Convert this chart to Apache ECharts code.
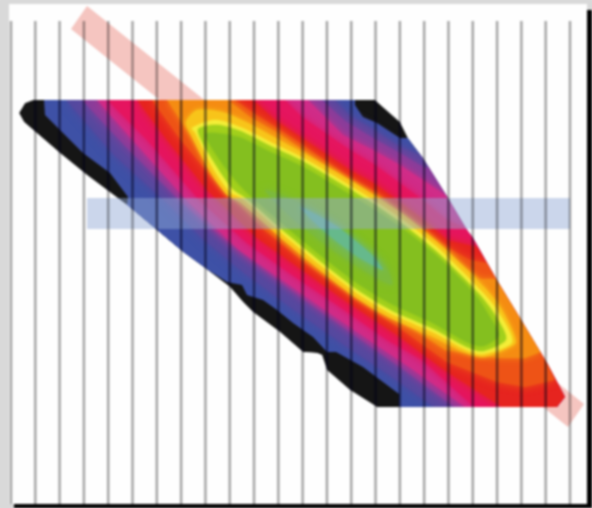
<!DOCTYPE html>
<html><head><meta charset="utf-8">
<script src="https://cdn.jsdelivr.net/npm/echarts@6/dist/echarts.min.js"></script>
<style>html,body{margin:0;padding:0;background:#d9d9d9;overflow:hidden}#main{width:592px;height:508px;filter:blur(0.9px)}</style>
</head><body><div id="main"></div>
<script>
// vertical rule positions (index along the horizontal scale)
const ruleTicks = [0,1,2,3,4,5,6,7,8,9,10,11,12,13,14,15,16,17,18,19,20,21,22,23];
// contour lines of the field, [x, y] on the picture's scale, from the lowest level to the highest
const contourBlack = [[33,100],[375,100],[400,122],[408,138],[423,158],[448,198],[467,230],[473,238],[498,282],[523,323],[547,363],[563,393],[565,397],[557,407],[377,407],[350,390],[327,370],[322,355],[317,353],[303,352],[280,332],[253,312],[243,302],[230,287],[205,268],[183,252],[127,205],[87,175],[60,153],[24,122],[19,113],[25,103]];
const contourBlue = [[44,100],[355,100],[355,105],[363,117],[377,123],[400,138],[408,138],[423,158],[448,198],[467,230],[473,238],[498,282],[523,323],[547,363],[563,393],[565,397],[557,407],[399,407],[399,394],[363,367],[336,352],[327,352],[313,337],[293,323],[277,310],[263,300],[247,295],[242,285],[227,282],[205,268],[183,252],[127,205],[128,197],[110,173],[83,153],[45,115]];
const contourIndigo = [[66,100],[114,155],[169,205],[204,240],[244,273],[294,310],[344,345],[389,375],[434,407],[557,407],[565,397],[563,393],[547,363],[523,323],[498,282],[473,238],[467,230],[448,198],[423,158],[421,155],[400,147],[373,129],[350,116],[335,100]];
const contourPurple = [[82,100],[124,145],[179,200],[219,235],[264,270],[309,303],[364,342],[404,370],[454,407],[557,407],[565,397],[563,393],[547,363],[523,323],[498,282],[473,238],[467,230],[448,198],[429,167],[425,168],[400,153],[373,138],[345,121],[322,100]];
const contourPink = [[97,100],[137,145],[189,203],[239,250],[282,280],[329,313],[379,347],[409,367],[465,407],[557,407],[565,397],[563,393],[547,363],[523,323],[498,282],[473,238],[467,230],[448,198],[444,194],[423,180],[400,165],[373,150],[343,135],[308,100]];
const contourCrimson = [[107,100],[147,140],[199,200],[247,243],[292,275],[337,305],[387,340],[422,360],[474,407],[557,407],[565,397],[563,393],[547,363],[523,323],[498,282],[473,238],[467,230],[463,227],[447,220],[423,200],[375,165],[350,150],[302,117],[285,100]];
const contourRed = [[137,100],[167,140],[207,190],[257,238],[302,270],[347,302],[397,335],[447,372],[502,407],[557,407],[565,397],[563,393],[547,363],[523,323],[498,282],[477,247],[447,240],[423,219],[375,184],[350,170],[302,138],[275,120],[253,100]];
const contourScarlet = [[152,100],[177,135],[212,178],[264,230],[304,262],[352,297],[402,330],[447,362],[497,382],[525,387],[555,380],[547,363],[523,323],[498,282],[487,263],[470,260],[447,247],[423,228],[375,192],[350,178],[303,145],[280,130],[255,114],[235,100]];
const contourOrange = [[167,100],[187,130],[217,170],[267,222],[304,258],[355,293],[400,320],[445,350],[497,358],[525,358],[541,352],[523,323],[498,282],[495,279],[480,279],[447,252],[423,232],[375,196],[350,182],[303,150],[280,134],[250,117],[228,100]];
const contourAmber = [[186,122],[197,110],[222,112],[246,122],[272,136],[303,153],[338,173],[374,195],[409,219],[443,247],[484,287],[501,308],[516,342],[504,350],[483,357],[466,353],[431,336],[388,317],[355,297],[321,271],[288,244],[240,202],[227,195],[209,170],[191,135]];
const contourYellow = [[192,128],[215,120],[242,128],[270,142],[303,158],[337,178],[373,200],[407,223],[440,250],[480,290],[497,310],[512,342],[483,354],[467,350],[433,332],[390,313],[357,293],[323,267],[290,240],[242,198],[230,192],[213,168],[195,132]];
const contourLime = [[198,130],[217,125],[240,131],[268,145],[302,161],[336,181],[372,203],[405,226],[438,253],[478,293],[493,312],[506,339],[483,351],[467,347],[434,329],[391,310],[358,290],[324,264],[291,237],[246,198],[233,189],[216,165]];
const contourGreen = [[206,134],[238,137],[268,151],[303,167],[337,187],[373,209],[407,232],[440,259],[476,296],[489,316],[499,335],[483,346],[467,342],[433,323],[390,303],[357,283],[323,257],[290,230],[253,198],[238,183],[220,160]];
const contourDeepGreen = [[265,190],[300,203],[340,230],[385,265],[392,285],[350,262],[300,225]];
const contourTeal = [[300,207],[335,225],[372,255],[383,270],[355,255],[325,232]];
const levelContours = [contourBlack,contourBlue,contourIndigo,contourPurple,contourPink,contourCrimson,contourRed,contourScarlet,contourOrange,contourAmber,contourYellow,contourLime,contourGreen,contourDeepGreen,contourTeal];
const levelColors = ['#151515','#3e51a6','#54499f','#8a3d9a','#d02c88','#e5155f','#e6241f','#ee5316','#f58c12','#f8c41a','#f4ee38','#a2d01c','#84bf1f','#7cba3c','#66b98c'];
const levelFeather = [0,0,10,12,8,8,10,8,7,5,2,2,3,8,8];
// the two pale strips that cross the field
const stripPink = [[87,6],[584,404],[568,427],[71,29]];
const stripBlue = [[87,198],[570,198],[570,229],[87,229]];

function poly(pts, api, fill, z){
  return {type:'polygon', z2:z, shape:{points:pts.map(p=>api.coord(p))}, style:{fill:fill}};
}
function rule(a, b, stroke, width, z){
  return {type:'line', z2:z, shape:{x1:a[0],y1:a[1],x2:b[0],y2:b[1]}, style:{stroke:stroke, lineWidth:width}};
}
const chart = echarts.init(document.getElementById('main'), null, {renderer:'canvas'});
chart.setOption({
  animation:false,
  backgroundColor:'#d9d9d9',
  graphic:[
    {type:'rect', z:-5, shape:{x:9,y:4,width:578,height:500}, style:{fill:'#fefefe'}},
    {type:'rect', z:-4, shape:{x:587,y:10,width:5,height:498}, style:{fill:'#000'}},
    {type:'rect', z:-4, shape:{x:14,y:504,width:578,height:4}, style:{fill:'#000'}}
  ],
  grid:[
    {left:11, top:21, width:559, height:483},
    {left:0, top:0, width:592, height:508}
  ],
  xAxis:[
    {gridIndex:0, type:'value', min:0, max:23, interval:1, show:false},
    {gridIndex:1, type:'value', min:0, max:592, show:false}
  ],
  yAxis:[
    {gridIndex:0, type:'value', min:0, max:1, show:false, splitLine:{show:false}},
    {gridIndex:1, type:'value', min:0, max:508, inverse:true, show:false, splitLine:{show:false}}
  ],
  series:[
    {type:'custom', name:'strip', xAxisIndex:1, yAxisIndex:1, z:1, silent:true, data:[[0,0]],
     renderItem:(p,api)=>poly(stripPink,api,'#f5c5c0',1)},
    {type:'custom', name:'field', xAxisIndex:1, yAxisIndex:1, z:2, silent:true,
     data:levelContours.map((c,i)=>[i,i]),
     renderItem:(p,api)=>{
       const i=api.value(0);
       const el=poly(levelContours[i],api,levelColors[i],i);
       if(i>=9) el.shape.smooth=0.25;
       el.style.shadowBlur=levelFeather[i];
       el.style.shadowColor=levelColors[i];
       el.clipPath={type:'polygon',shape:{points:contourBlack.map(q=>api.coord(q))}};
       return el;
     }},
    {type:'custom', name:'band', xAxisIndex:1, yAxisIndex:1, z:3, silent:true, data:[[0,0]],
     renderItem:(p,api)=>poly(stripBlue,api,'rgba(147,170,215,0.47)',1)},
    {type:'custom', name:'rules', xAxisIndex:0, yAxisIndex:0, z:4, silent:true, clip:false,
     data:ruleTicks.map(t=>[t,0]),
     renderItem:(p,api)=>{
       const t=api.value(0), a=api.coord([t,0]), b=api.coord([t,1]);
       const over=rule(a,b,'rgba(0,0,50,0.3)',2,2);
       over.clipPath={type:'polygon',shape:{points:contourBlack.map(q=>chart.convertToPixel({gridIndex:1},q))}};
       return {type:'group', children:[rule(a,b,'rgba(0,0,0,0.36)',2.4,1), over]};
     }}
  ]
});
</script></body></html>
